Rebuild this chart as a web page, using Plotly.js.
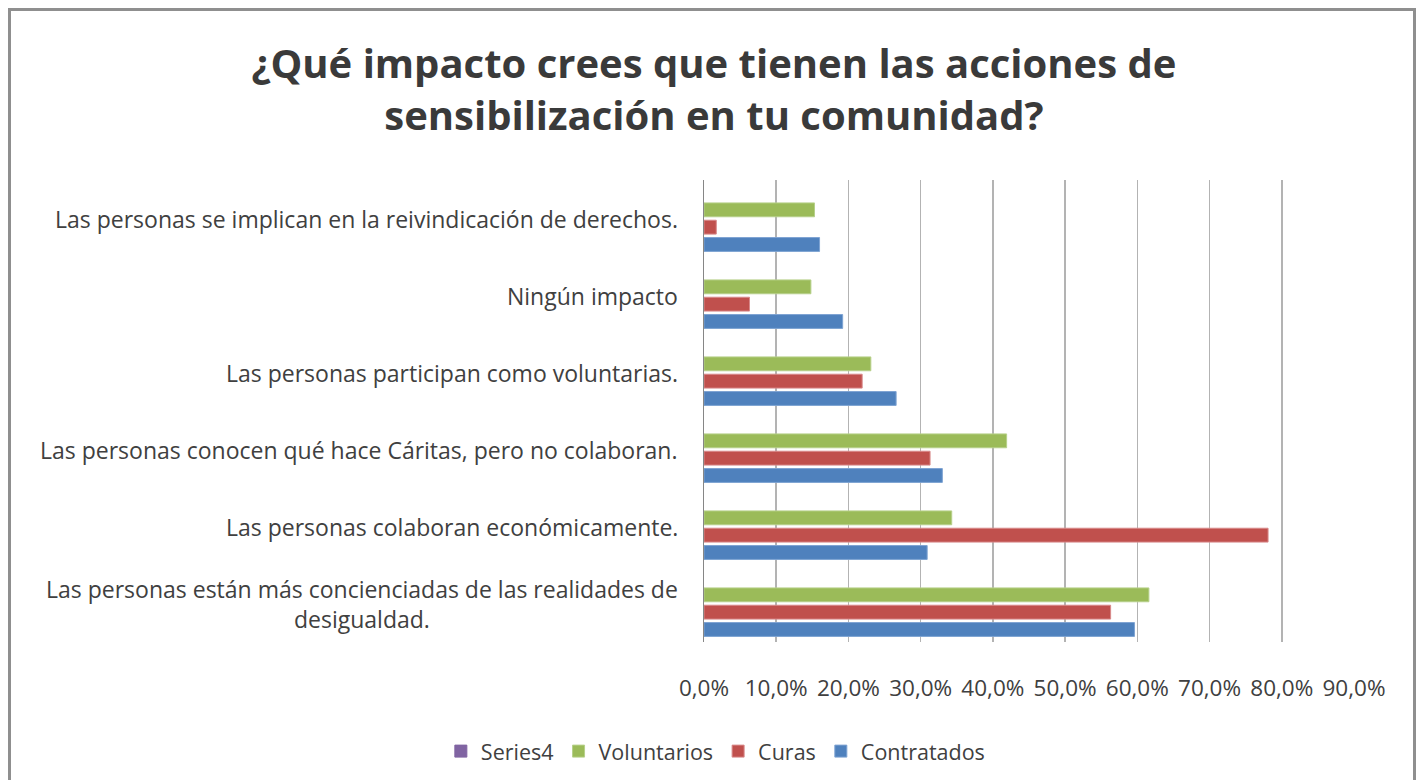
<!DOCTYPE html>
<html>
<head>
<meta charset="utf-8">
<script src="https://cdn.plot.ly/plotly-3.0.1.min.js"></script>
<style>
  html, body { margin: 0; padding: 0; background: #fff; }
  #chart { width: 1425px; height: 780px; }
  #frame { position: absolute; left: 8px; top: 8px; width: 1408px; height: 800px;
           border-left: 3px solid #8f8f8f; border-top: 3px solid #8f8f8f; border-right: 3px solid #8f8f8f;
           pointer-events: none; box-sizing: border-box; }
</style>
</head>
<body>
<div id="chart"></div>
<div id="frame"></div>
<script>
// Categories listed bottom-to-top (as drawn on the y axis)
const categories = [
  "Las personas están más concienciadas de las realidades de<br>desigualdad.",
  "Las personas colaboran económicamente.",
  "Las personas conocen qué hace Cáritas, pero no colaboran.",
  "Las personas participan como voluntarias.",
  "Ningún impacto",
  "Las personas se implican en la reivindicación de derechos."
];
const contratados = [59.6, 30.9, 33.0, 26.6, 19.2, 16.0];
const curas       = [56.3, 78.1, 31.3, 21.9, 6.3, 1.7];
const voluntarios = [61.6, 34.3, 41.9, 23.1, 14.8, 15.3];
const series4     = [null, null, null, null, null, null];
const xTicks = [0, 10, 20, 30, 40, 50, 60, 70, 80, 90];
const xTickLabels = ["0,0%", "10,0%", "20,0%", "30,0%", "40,0%", "50,0%", "60,0%", "70,0%", "80,0%", "90,0%"];

const font = "'Open Sans', sans-serif";
const txt = "#404040";

const mk = (name, vals, color, line) => ({
  type: "bar", orientation: "h", name: name, x: vals, y: categories,
  marker: { color: color, line: { color: line, width: 1 } },
  hoverinfo: "x+name"
});

const traces = [
  mk("Contratados", contratados, "#4F81BD", "#7ea3d2"),
  mk("Curas", curas, "#C0504D", "#d8898a"),
  mk("Voluntarios", voluntarios, "#9BBB59", "#b6d08a"),
  mk("Series4", series4, "#8064A2", "#8064A2")
];

const annotations = categories.map((c, i) => ({
  text: c, xref: "paper", yref: "y", x: 0, y: c, xshift: -24,
  xanchor: "right", yanchor: "middle", align: "center", showarrow: false,
  font: { family: font, size: 23, color: txt }
}));

const layout = {
  width: 1425, height: 780,
  margin: { l: 704, r: 71, t: 180, b: 138, pad: 0 },
  paper_bgcolor: "#fff", plot_bgcolor: "#fff",
  barmode: "group", bargap: 0.1, bargroupgap: 0.2,
  title: {
    text: "¿Qué impacto crees que tienen las acciones de<br>sensibilización en tu comunidad?",
    font: { family: font, size: 40, color: "#3a3a3a", weight: "bold" },
    xref: "container", x: 0.501, xanchor: "center",
    yref: "container", y: 0.90, yanchor: "top"
  },
  xaxis: {
    range: [0, 90], tickvals: xTicks, ticktext: xTickLabels,
    showgrid: true, gridcolor: "#b3b3b3", gridwidth: 1.5,
    zeroline: false, showline: false, ticks: "",
    ticklabelstandoff: 30,
    tickfont: { family: font, size: 22.5, color: txt },
    fixedrange: true
  },
  yaxis: {
    type: "category", showticklabels: false, showgrid: false, zeroline: false,
    showline: true, linecolor: "#868686", linewidth: 1.5, ticks: "", fixedrange: true
  },
  legend: {
    orientation: "h", traceorder: "reversed",
    xref: "container", yref: "container", x: 0.502, y: 0.037,
    xanchor: "center", yanchor: "middle",
    font: { family: font, size: 21.5, color: txt },
    itemwidth: 30, tracegroupgap: 0
  },
  annotations: annotations,
  showlegend: true
};

Plotly.newPlot("chart", traces, layout, { displayModeBar: false, staticPlot: true });
</script>
</body>
</html>
